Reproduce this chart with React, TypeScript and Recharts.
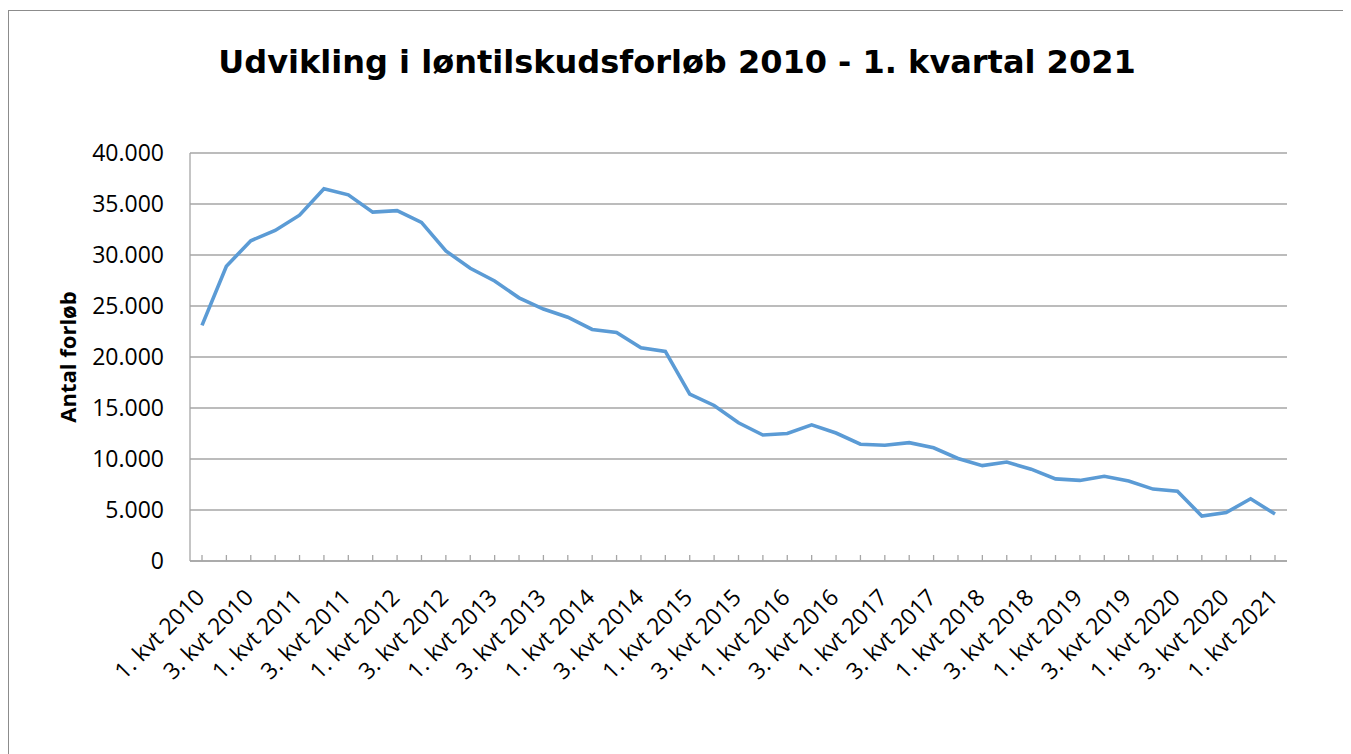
import React from 'react';
import { LineChart, Line, XAxis, YAxis, CartesianGrid } from 'recharts';

const quarters = [
  '1. kvt 2010', '2. kvt 2010', '3. kvt 2010', '4. kvt 2010',
  '1. kvt 2011', '2. kvt 2011', '3. kvt 2011', '4. kvt 2011',
  '1. kvt 2012', '2. kvt 2012', '3. kvt 2012', '4. kvt 2012',
  '1. kvt 2013', '2. kvt 2013', '3. kvt 2013', '4. kvt 2013',
  '1. kvt 2014', '2. kvt 2014', '3. kvt 2014', '4. kvt 2014',
  '1. kvt 2015', '2. kvt 2015', '3. kvt 2015', '4. kvt 2015',
  '1. kvt 2016', '2. kvt 2016', '3. kvt 2016', '4. kvt 2016',
  '1. kvt 2017', '2. kvt 2017', '3. kvt 2017', '4. kvt 2017',
  '1. kvt 2018', '2. kvt 2018', '3. kvt 2018', '4. kvt 2018',
  '1. kvt 2019', '2. kvt 2019', '3. kvt 2019', '4. kvt 2019',
  '1. kvt 2020', '2. kvt 2020', '3. kvt 2020', '4. kvt 2020',
  '1. kvt 2021',
];

const forloeb = [
  23100, 28900, 31400, 32400,
  33900, 36500, 35900, 34200,
  34350, 33200, 30400, 28700,
  27450, 25800, 24700, 23900,
  22700, 22400, 20900, 20550,
  16350, 15250, 13550, 12350,
  12500, 13350, 12550, 11450,
  11350, 11600, 11100, 10050,
  9350, 9700, 9000, 8050,
  7900, 8300, 7850, 7050,
  6850, 4400, 4750, 6100,
  4600,
];

const yTicks = [0, 5000, 10000, 15000, 20000, 25000, 30000, 35000, 40000];

const data = quarters.map((q, i) => ({ kvartal: q, antal: forloeb[i] }));

const fmt = (v: number) => (v === 0 ? '0' : v.toLocaleString('de-DE'));

const AXIS_FONT = '"Open Sans", sans-serif';

const XTick = (props: any) => {
  const { x, y, payload, index } = props;
  const tx = x + 4;
  const ty = y + 38;
  return (
    <g>
      <line x1={x} y1={y - 6} x2={x} y2={y} stroke="#a6a6a6" strokeWidth={1.3} />
      {index % 2 === 0 ? (
        <text
          x={tx}
          y={ty}
          textAnchor="end"
          transform={`rotate(-45, ${tx}, ${ty})`}
          fontFamily={AXIS_FONT}
          fontSize={23}
          fill="#000"
        >
          {payload.value}
        </text>
      ) : null}
    </g>
  );
};

const YLabel = (props: any) => {
  const { viewBox } = props;
  const cx = viewBox.x - 34;
  const cy = viewBox.y + viewBox.height / 2;
  return (
    <text
      x={cx}
      y={cy}
      textAnchor="middle"
      transform={`rotate(-90, ${cx}, ${cy})`}
      fontFamily={AXIS_FONT}
      fontWeight="bold"
      fontSize={22}
      fill="#000"
    >
      Antal forløb
    </text>
  );
};

export default function App() {
  return (
    <div
      style={{
        position: 'relative',
        top: 2,
        width: 1338,
        height: 760,
        border: '1px solid #8c8c8c',
        boxSizing: 'border-box',
        background: '#fff',
      }}
    >
      <div
        style={{
          position: 'absolute',
          left: 0,
          right: 0,
          top: 32,
          textAlign: 'center',
          fontFamily: '"DejaVu Sans", sans-serif',
          fontWeight: 'bold',
          fontSize: 32,
          lineHeight: '38px',
          color: '#000',
        }}
      >
        Udvikling i løntilskudsforløb 2010 - 1. kvartal 2021
      </div>
      <LineChart
        width={1336}
        height={740}
        data={data}
        margin={{ top: 142, right: 58, bottom: 40, left: 101 }}
      >
        <CartesianGrid vertical={false} stroke="#a6a6a6" strokeWidth={1.3} />
        <XAxis
          dataKey="kvartal"
          interval={0}
          padding={{ left: 12, right: 12 }}
          tickLine={false}
          tickSize={0}
          tickMargin={0}
          height={150}
          axisLine={{ stroke: '#a6a6a6', strokeWidth: 1.3 }}
          tick={<XTick />}
        />
        <YAxis
          width={80}
          domain={[0, 40000]}
          ticks={yTicks}
          tickFormatter={fmt}
          tickLine={false}
          tickSize={0}
          tickMargin={26}
          axisLine={{ stroke: '#a6a6a6', strokeWidth: 1.3 }}
          tick={{ fontFamily: AXIS_FONT, fontSize: 23, fill: '#000' }}
          label={<YLabel />}
        />
        <Line
          type="linear"
          dataKey="antal"
          stroke="#5b9bd5"
          strokeWidth={3.6}
          dot={false}
          isAnimationActive={false}
        />
      </LineChart>
    </div>
  );
}
